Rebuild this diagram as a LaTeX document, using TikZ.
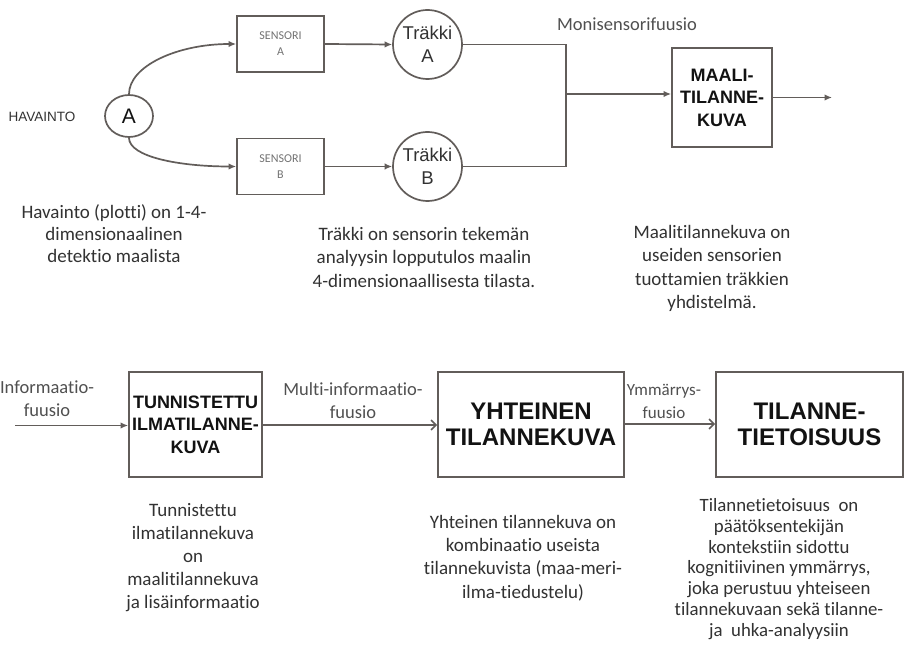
\documentclass[tikz,border=0pt]{standalone}
\usepackage{fontspec}
\setmainfont{Carlito}[Ligatures=NoCommon]
\newfontfamily\arialf{Liberation Sans}
\usetikzlibrary{arrows.meta,shapes.geometric}

\definecolor{linecol}{RGB}{98,93,90}
\definecolor{textcol}{RGB}{50,50,50}
\definecolor{titlecol}{RGB}{18,18,18}
\definecolor{sensorcol}{RGB}{115,115,115}
\definecolor{labelcol}{RGB}{80,80,80}

\tikzset{
  wire/.style={draw=linecol, line width=1.7pt},
  arrF/.style={wire, -{Latex[length=7.5pt,width=6.5pt]}},
  arrO/.style={wire, -{Straight Barb[length=5pt,width=10pt,line width=1.5pt]}},
  frame/.style={draw=linecol, line width=1.8pt, inner sep=0pt, align=center},
  note/.style={text=textcol, align=center, inner sep=0pt, font=\fontsize{19}{22}\selectfont},
  flabel/.style={text=labelcol, align=center, inner sep=0pt, font=\fontsize{18.5}{23}\selectfont},
  title/.style={text=titlecol, font=\arialf\bfseries\fontsize{18}{22.5}\selectfont},
  bigtitle/.style={text=titlecol, font=\arialf\bfseries\fontsize{24}{26}\selectfont},
  sensorbox/.style={frame, minimum width=87pt, minimum height=56pt, text=sensorcol,
    font=\fontsize{12}{16}\selectfont},
  trackcircle/.style={circle, draw=linecol, line width=1.7pt, minimum size=69pt, inner sep=0pt,
    align=center, text=textcol, font=\arialf\fontsize{18.5}{23}\selectfont},
}

\begin{document}
\begin{tikzpicture}[x=1pt,y=-1pt]
  \useasboundingbox[fill=white] (0,0) rectangle (908,660);

  % ---- upper chain: detection, sensors, tracks, target picture ----
  \node[text=textcol, font=\arialf\fontsize{13.5}{15}\selectfont, inner sep=0pt] (havlbl) at (42,117) {HAVAINTO};
  \node[ellipse, draw=linecol, line width=1.7pt, minimum width=48pt, minimum height=42pt, inner sep=0pt,
        text=titlecol, font=\arialf\fontsize{21}{24}\selectfont] (hav) at (129,116) {A};

  \node[sensorbox] (sA) at (280.5,44) {SENSORI\\A};
  \node[sensorbox] (sB) at (280.5,166.5) {SENSORI\\B};

  \node[trackcircle] (tA) at (427.5,44.5) {Träkki\\A};
  \node[trackcircle] (tB) at (427.5,166.5) {Träkki\\B};

  \node[frame, minimum width=100pt, minimum height=99pt, title] (maali) at (722,97.5)
        {MAALI-\\TILANNE-\\KUVA};

  \node[flabel] (mslbl) at (627,24) {Monisensorifuusio};

  \draw[arrF] (hav.north) .. controls +(0,-28) and +(-59,0) .. (sA.west);
  \draw[arrF] (hav.south) .. controls +(0,19) and +(-57,0) .. (sB.west);
  \draw[arrF] (sA.east) -- (tA.west);
  \draw[arrF] (sB.east) -- (tB.west);

  \coordinate (junc) at (566,94);
  \draw[wire] (tA.east) -- (tA.east -| junc) -- (tB.east -| junc) -- (tB.east);
  \draw[arrF] (junc) -- (junc -| maali.west);

  \coordinate (outend) at (832,97.5);
  \draw[arrF] (maali.east) -- (outend);

  % ---- upper explanations ----
  \node[note] (n1) at (114,234) {Havainto (plotti) on 1-4-\\dimensionaalinen\\detektio maalista};
  \node[note, font=\fontsize{19}{23.5}\selectfont] (n2) at (424,257)
        {Träkki on sensorin tekemän\\analyysin lopputulos maalin\\4-dimensionaallisesta tilasta.};
  \node[note, font=\fontsize{19}{23.5}\selectfont] (n3) at (712,268.5)
        {Maalitilannekuva on\\useiden sensorien\\tuottamien träkkien\\yhdistelmä.};

  % ---- lower chain: fusion levels ----
  \node[frame, minimum width=133pt, minimum height=105pt, title] (tun) at (195.5,424.5)
        {TUNNISTETTU\\ILMATILANNE-\\KUVA};
  \node[frame, minimum width=186pt, minimum height=105pt, bigtitle] (yht) at (531,424.5)
        {YHTEINEN\\TILANNEKUVA};
  \node[frame, minimum width=187pt, minimum height=105pt, bigtitle] (tie) at (809.5,424.5)
        {TILANNE-\\TIETOISUUS};

  \coordinate (instart) at (15,425.5);
  \draw[arrF] (instart) -- (instart -| tun.west);
  \draw[arrO] (tun.east |- 0,425) -- (yht.west |- 0,425);
  \draw[arrO] (yht.east |- 0,424) -- (tie.west |- 0,424);

  \node[flabel] (l1) at (47,398.5) {Informaatio-\\fuusio};
  \node[flabel] (l2) at (353,400.5) {Multi-informaatio-\\fuusio};
  \node[flabel, font=\fontsize{17}{23}\selectfont] (l3) at (664,401.5) {Ymmärrys-\\fuusio};

  % ---- lower explanations ----
  \node[note, font=\fontsize{19}{22.8}\selectfont] (n4) at (193,557.5)
        {Tunnistettu\\ilmatilannekuva\\on\\maalitilannekuva\\ja lisäinformaatio};
  \node[note, font=\fontsize{19}{23.3}\selectfont] (n5) at (523,558)
        {Yhteinen tilannekuva on\\kombinaatio useista\\tilannekuvista (maa-meri-\\ilma-tiedustelu)};
  \node[note, font=\fontsize{18.8}{20.8}\selectfont] (n6) at (779,569)
        {Tilannetietoisuus\ \ on\\päätöksentekijän\\kontekstiin sidottu\\kognitiivinen ymmärrys,\\joka perustuu yhteiseen\\tilannekuvaan sekä tilanne-\\ja\ \ uhka-analyysiin};
\end{tikzpicture}
\end{document}
